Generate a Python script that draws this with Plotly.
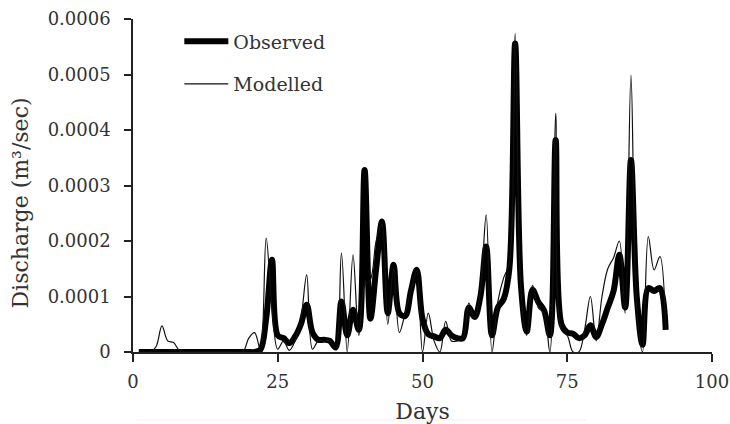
import plotly.graph_objects as go

days = list(range(1, 93))

observed = [
    0.0, 0.0, 0.0, 0.0, 0.0, 0.0, 0.0, 0.0, 0.0, 0.0,            # 1-10
    0.0, 0.0, 0.0, 0.0, 0.0, 0.0, 0.0, 0.0, 0.0, 0.0,            # 11-20
    0.0, 0.000004, 0.00006, 0.000166, 0.00003, 0.000025, 0.000016, 0.000028, 0.00005, 0.000085,  # 21-30
    0.000035, 0.000022, 0.000022, 0.00002, 0.000008, 0.000091, 0.00003, 0.000076, 0.00004, 0.000328,  # 31-40
    0.00006, 0.00015, 0.000235, 0.00007, 0.000157, 0.00007, 0.000065, 0.00011, 0.000148, 0.00006,  # 41-50
    0.000032, 0.000028, 0.000025, 0.00004, 0.00003, 0.000025, 0.000025, 0.00008, 0.000063, 0.0001,  # 51-60
    0.00019, 0.00003, 0.00008, 0.000095, 0.00015, 0.000556, 0.00012, 0.000037, 0.000112, 0.00009,  # 61-70
    0.000075, 0.00003, 0.000382, 0.00005, 0.000035, 0.000033, 0.000025, 0.00003, 0.000048, 0.000027,  # 71-80
    0.00005, 0.00008, 0.00011, 0.000175, 0.00008, 0.000346, 0.0001, 0.000013, 0.000115, 0.00011,  # 81-90
    0.000115, 0.00004,                                            # 91-92
]

modelled = [
    0.0, 0.0, 0.0, 0.00001, 0.000047, 0.00002, 0.000017, 0.000003, 0.0, 0.0,  # 1-10
    0.0, 0.0, 0.0, 0.0, 0.0, 0.0, 0.0, 0.0, 0.0, 0.000025,       # 11-20
    0.000035, 0.000005, 0.000205, 0.00008, 0.000005, 0.00002, 0.000003, 0.00002, 0.00006, 0.000139,  # 21-30
    0.000005, 0.00002, 0.00002, 0.00002, 0.000005, 0.000178, 0.0, 0.000175, 0.00003, 0.00012,  # 31-40
    0.00013, 0.0002, 0.00023, 0.00005, 0.00015, 0.000035, 0.00007, 0.00011, 0.000145, 0.0,  # 41-50
    0.00007, 0.00002, 0.0, 0.000055, 0.00002, 0.00002, 0.000025, 0.000088, 0.00006, 0.00011,  # 51-60
    0.000247, 0.0, 0.00009, 0.000133, 0.00016, 0.000574, 0.00011, 0.00003, 0.00012, 0.00008,  # 61-70
    0.00007, 0.0, 0.00043, 0.00004, 0.00003, 0.0, 0.0, 0.00004, 0.0001, 0.00002,  # 71-80
    0.0001, 0.00015, 0.00017, 0.0002, 0.00007, 0.000499, 0.00008, 0.0, 0.000208, 0.000148,  # 81-90
    0.000172, 0.00004,                                            # 91-92
]

y_tickvals = [0, 0.0001, 0.0002, 0.0003, 0.0004, 0.0005, 0.0006]
y_ticktext = ["0", "0.0001", "0.0002", "0.0003", "0.0004", "0.0005", "0.0006"]
x_tickvals = [0, 25, 50, 75, 100]
x_ticktext = ["0", "25", "50", "75", "100"]

FONT = "DejaVu Serif"
TXT = "#333333"

fig = go.Figure()
fig.add_trace(go.Scatter(
    x=days, y=observed, name="Observed", mode="lines",
    line=dict(color="#000000", width=6, shape="spline", smoothing=1.0),
    legendgroup="a",
))
fig.add_trace(go.Scatter(
    x=days, y=modelled, name="Modelled", mode="lines",
    line=dict(color="#111111", width=1.2, shape="spline", smoothing=1.0),
    legendgroup="b",
))

fig.update_layout(
    width=730, height=424,
    margin=dict(l=133, r=18, t=19, b=72, autoexpand=False),
    paper_bgcolor="white", plot_bgcolor="white",
    font=dict(family=FONT, size=18, color=TXT),
    showlegend=True,
    legend=dict(
        x=0.08, y=0.99, xanchor="left", yanchor="top",
        bgcolor="rgba(0,0,0,0)", traceorder="grouped", tracegroupgap=15,
        font=dict(family=FONT, size=19, color=TXT),
        itemwidth=44,
    ),
    xaxis=dict(
        range=[0, 100], tickvals=x_tickvals, ticktext=x_ticktext, automargin=False,
        showgrid=False, zeroline=False, showline=True, linecolor="#222", linewidth=1.5,
        ticks="outside", ticklen=8, tickcolor="#222", tickwidth=1.5,
        tickfont=dict(family=FONT, size=18, color=TXT),
        ticklabelstandoff=5,
        title=dict(text="Days", font=dict(family=FONT, size=22, color=TXT), standoff=12),
    ),
    yaxis=dict(
        range=[0, 0.0006], tickvals=y_tickvals, ticktext=y_ticktext, automargin=False,
        showgrid=False, zeroline=False, showline=True, linecolor="#222", linewidth=1.5,
        ticks="outside", ticklen=7, tickcolor="#222", tickwidth=1.5,
        tickfont=dict(family=FONT, size=18, color=TXT),
        ticklabelstandoff=10,
    ),
    annotations=[dict(
        text="Discharge (m³/sec)", textangle=-90, showarrow=False,
        xref="paper", yref="paper", x=(20 - 133.3) / 578.2, y=(352 - 203) / 333,
        xanchor="center", yanchor="middle",
        font=dict(family=FONT, size=22, color=TXT),
    )],
    shapes=[dict(
        type="line", xref="paper", yref="paper",
        x0=0.006, x1=0.784, y0=-0.204, y1=-0.204,
        line=dict(color="#eeeeee", width=1),
    )],
)

fig.write_html("out.html")
